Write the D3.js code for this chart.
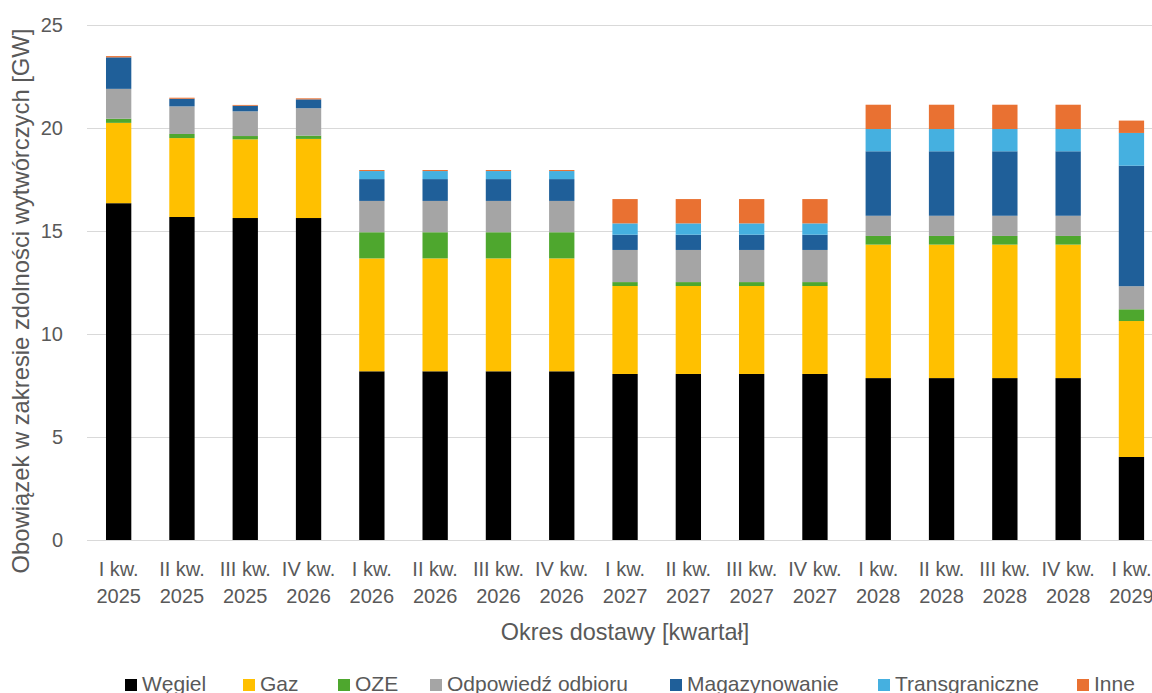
<!DOCTYPE html>
<html>
<head>
<meta charset="utf-8">
<script src="https://cdn.jsdelivr.net/npm/d3@7"></script>
<style>
  html, body { margin: 0; padding: 0; background: #fff; }
  svg { display: block; }
  text { font-family: "Liberation Sans", Arial, sans-serif; fill: #595959; }
</style>
</head>
<body>
<svg id="chart" width="1152" height="693"></svg>
<script>
// Delivery periods (quarters)
const quarters = ["I kw.", "II kw.", "III kw.", "IV kw.", "I kw.", "II kw.", "III kw.", "IV kw.",
                  "I kw.", "II kw.", "III kw.", "IV kw.", "I kw.", "II kw.", "III kw.", "IV kw.", "I kw."];
const years = ["2025", "2025", "2025", "2026", "2026", "2026", "2026", "2026",
               "2027", "2027", "2027", "2027", "2028", "2028", "2028", "2028", "2029"];

// Capacity obligation by technology [GW]
const wegiel = [16.35, 15.68, 15.63, 15.63, 8.19, 8.19, 8.19, 8.19, 8.06, 8.06, 8.06, 8.06, 7.86, 7.86, 7.86, 7.86, 4.03];
const gaz = [3.90, 3.83, 3.82, 3.84, 5.48, 5.48, 5.48, 5.48, 4.27, 4.27, 4.27, 4.27, 6.48, 6.48, 6.48, 6.48, 6.60];
const oze = [0.20, 0.20, 0.16, 0.16, 1.27, 1.27, 1.27, 1.27, 0.19, 0.19, 0.19, 0.19, 0.42, 0.42, 0.42, 0.42, 0.57];
const odpowiedz = [1.45, 1.34, 1.20, 1.33, 1.52, 1.52, 1.52, 1.52, 1.56, 1.56, 1.56, 1.56, 0.98, 0.98, 0.98, 0.98, 1.12];
const magazynowanie = [1.53, 0.37, 0.27, 0.43, 1.06, 1.06, 1.06, 1.06, 0.74, 0.74, 0.74, 0.74, 3.13, 3.13, 3.13, 3.13, 5.85];
const transgraniczne = [0, 0, 0, 0, 0.39, 0.39, 0.39, 0.39, 0.55, 0.55, 0.55, 0.55, 1.08, 1.08, 1.08, 1.08, 1.59];
const inne = [0.06, 0.05, 0.04, 0.05, 0.05, 0.05, 0.05, 0.05, 1.18, 1.18, 1.18, 1.18, 1.18, 1.18, 1.18, 1.18, 0.60];

const seriesNames = ["Węgiel", "Gaz", "OZE", "Odpowiedź odbioru", "Magazynowanie", "Transgraniczne", "Inne"];
const seriesValues = [wegiel, gaz, oze, odpowiedz, magazynowanie, transgraniczne, inne];
const seriesColors = ["#000000", "#FFC000", "#4EA72E", "#A5A5A5", "#1F5F99", "#45B0E0", "#E97132"];

const yTicks = [0, 5, 10, 15, 20, 25];

// Table for d3.stack: one row per quarter
const rows = quarters.map((q, i) => {
  const r = { key: i };
  seriesNames.forEach((s, k) => { r[s] = seriesValues[k][i]; });
  return r;
});

const svg = d3.select("#chart");
const plotLeft = 87, plotTop = 25, plotBottom = 540;
const step = 63.3;

const x = d3.scaleBand()
  .domain(d3.range(quarters.length))
  .range([plotLeft, plotLeft + step * quarters.length])
  .paddingInner(0.6)
  .paddingOuter(0.3);

const y = d3.scaleLinear().domain([0, 25]).range([plotBottom, plotTop]);

// Horizontal gridlines
svg.append("g")
  .selectAll("line")
  .data(yTicks)
  .join("line")
  .attr("x1", plotLeft)
  .attr("x2", 1152)
  .attr("y1", d => Math.round(y(d)) + 0.5)
  .attr("y2", d => Math.round(y(d)) + 0.5)
  .attr("stroke", "#D9D9D9")
  .attr("stroke-width", 1.2);

// Y axis labels
const yAxis = d3.axisLeft(y).tickValues(yTicks).tickSize(0).tickPadding(0);
const yg = svg.append("g").attr("transform", `translate(${plotLeft - 24},0)`).call(yAxis);
yg.select(".domain").remove();
yg.selectAll("text")
  .attr("font-size", 20)
  .attr("fill", "#595959")
  .attr("font-family", "Liberation Sans, Arial, sans-serif");

// Stacked bars
const stack = d3.stack().keys(seriesNames);
const stacked = stack(rows);

svg.append("g")
  .selectAll("g")
  .data(stacked)
  .join("g")
  .attr("fill", (d, i) => seriesColors[i])
  .selectAll("rect")
  .data(d => d)
  .join("rect")
  .attr("x", (d, i) => x(i))
  .attr("width", x.bandwidth())
  .attr("y", d => y(d[1]))
  .attr("height", d => Math.max(0, y(d[0]) - y(d[1])));

// X axis labels (two lines)
const xl = svg.append("g");
quarters.forEach((q, i) => {
  const cx = x(i) + x.bandwidth() / 2;
  const t = xl.append("text")
    .attr("text-anchor", "middle")
    .attr("font-size", 20);
  t.append("tspan").attr("x", cx).attr("y", 576).text(q);
  t.append("tspan").attr("x", cx).attr("y", 603).text(years[i]);
});

// Axis titles
svg.append("text")
  .attr("x", 625)
  .attr("y", 640)
  .attr("text-anchor", "middle")
  .attr("font-size", 23.4)
  .text("Okres dostawy [kwartał]");

svg.append("text")
  .attr("transform", "translate(28.5,301) rotate(-90)")
  .attr("text-anchor", "middle")
  .attr("font-size", 23.8)
  .text("Obowiązek w zakresie zdolności wytwórczych [GW]");

// Legend
const legendX = [125, 243, 338, 430, 670, 878, 1077];
const lg = svg.append("g");
seriesNames.forEach((s, i) => {
  lg.append("rect")
    .attr("x", legendX[i]).attr("y", 679)
    .attr("width", 12).attr("height", 12)
    .attr("fill", seriesColors[i]);
  lg.append("text")
    .attr("x", legendX[i] + 17).attr("y", 691)
    .attr("font-size", 21)
    .text(s);
});
</script>
</body>
</html>
